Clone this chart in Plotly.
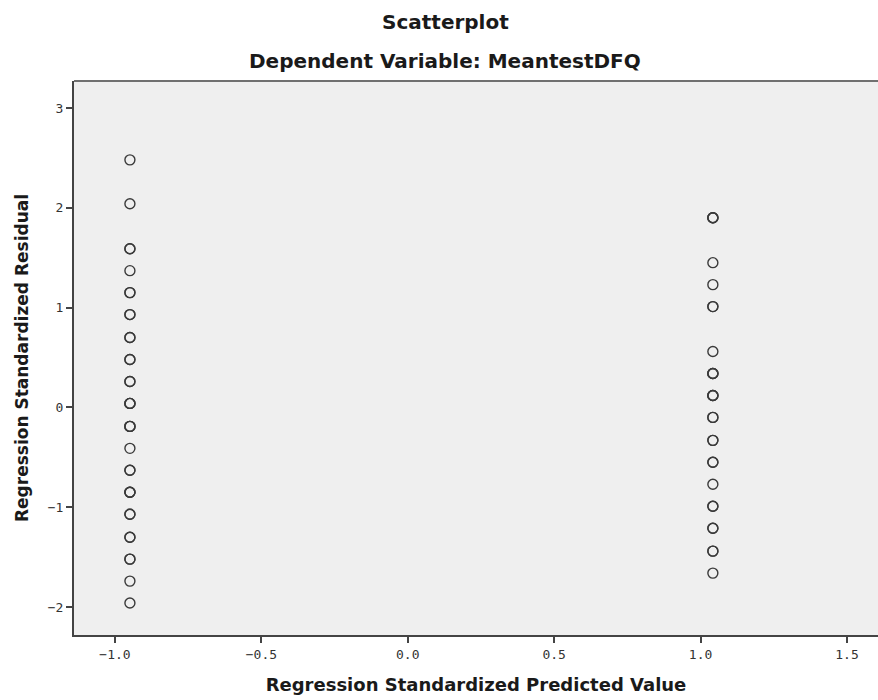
import plotly.graph_objects as go

# Left column (predicted approx -0.949)
left_x = -0.949
left_resid = [2.48, 2.04, 1.59, 1.37, 1.15, 0.93, 0.70, 0.48, 0.26, 0.04,
              -0.19, -0.41, -0.63, -0.85, -1.07, -1.30, -1.52, -1.74, -1.96]
left_count = [1, 1, 2, 1, 2, 2, 2, 2, 2, 3, 3, 1, 2, 3, 2, 2, 2, 1, 1]

# Right column (predicted approx 1.042)
right_x = 1.042
right_resid = [1.90, 1.45, 1.23, 1.01, 0.56, 0.34, 0.12, -0.10, -0.33, -0.55,
               -0.77, -0.99, -1.21, -1.44, -1.66]
right_count = [3, 1, 1, 2, 1, 3, 3, 2, 2, 2, 1, 2, 2, 2, 1]

x_ticks = [-1.0, -0.5, 0.0, 0.5, 1.0, 1.5]
x_labels = ["\u22121.0", "\u22120.5", "0.0", "0.5", "1.0", "1.5"]
y_ticks = [-2, -1, 0, 1, 2, 3]
y_labels = ["\u22122", "\u22121", "0", "1", "2", "3"]

xs, ys = [], []
for v, c in zip(left_resid, left_count):
    for _ in range(c):
        xs.append(left_x); ys.append(v)
for v, c in zip(right_resid, right_count):
    for _ in range(c):
        xs.append(right_x); ys.append(v)

fig = go.Figure(go.Scatter(
    x=xs, y=ys, mode="markers",
    marker=dict(symbol="circle-open", size=10, color="#3a3a3a",
                line=dict(width=1.4, color="#3a3a3a")),
    hoverinfo="x+y", showlegend=False,
))

tick_font = dict(family="DejaVu Sans Mono", size=13, color="#333333")
fig.update_layout(
    width=878, height=700,
    margin=dict(l=74, r=0, t=81, b=65),
    paper_bgcolor="white", plot_bgcolor="#efefef",
    xaxis=dict(range=[-1.14, 1.606], tickvals=x_ticks, ticktext=x_labels,
               showgrid=False, zeroline=False, showline=True, linecolor="#444444",
               linewidth=2, mirror=False, ticks="outside", ticklen=6, tickwidth=2,
               tickcolor="#444444", tickfont=tick_font,
               title=dict(text="<b>Regression Standardized Predicted Value</b>",
                          font=dict(family="DejaVu Sans", size=18, color="#1a1a1a"),
                          standoff=18)),
    yaxis=dict(range=[-2.28, 3.27], tickvals=y_ticks, ticktext=y_labels,
               showgrid=False, zeroline=False, showline=True, linecolor="#444444",
               linewidth=2, mirror=False, ticks="outside", ticklen=6, tickwidth=2,
               tickcolor="#444444", tickfont=tick_font,
               title=dict(text="<b>Regression Standardized Residual</b>",
                          font=dict(family="DejaVu Sans", size=17, color="#1a1a1a"),
                          standoff=15)),
    shapes=[dict(type="line", xref="paper", yref="paper", x0=0, x1=1, y0=1, y1=1,
                 line=dict(color="#707070", width=2))],
    annotations=[
        dict(text="<b>Scatterplot</b>", xref="paper", yref="paper", x=0.462, y=1.0,
             yshift=59, showarrow=False, xanchor="center", yanchor="middle",
             font=dict(family="DejaVu Sans", size=20, color="#1a1a1a")),
        dict(text="<b>Dependent Variable: MeantestDFQ</b>", xref="paper", yref="paper",
             x=0.462, y=1.0, yshift=20, showarrow=False, xanchor="center",
             yanchor="middle", font=dict(family="DejaVu Sans", size=20, color="#1a1a1a")),
    ],
)

fig.write_html("out.html")
